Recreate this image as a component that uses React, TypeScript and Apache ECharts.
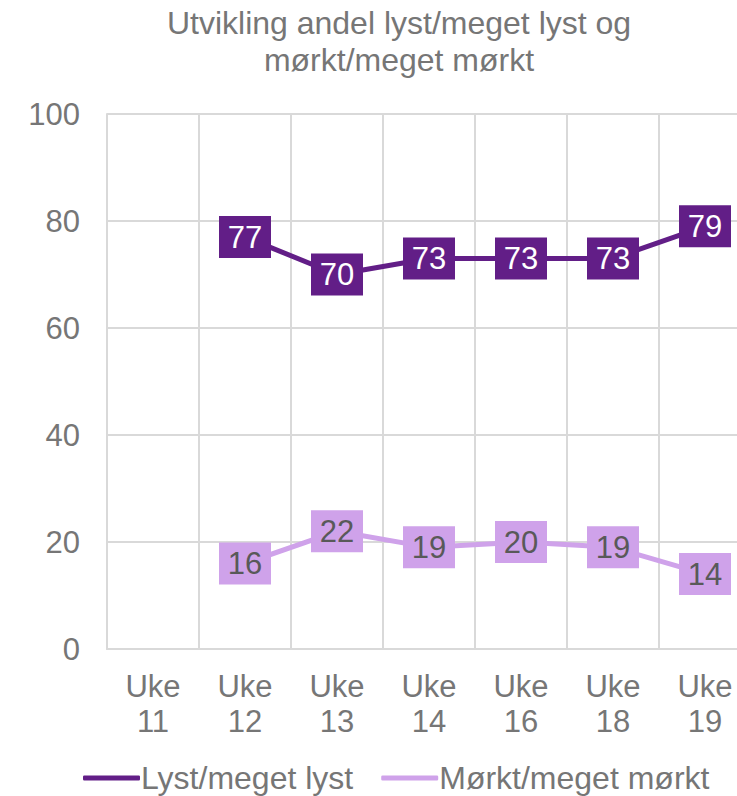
import React, { useEffect, useRef } from "react";
import * as echarts from "echarts";

const categories = ["Uke\n11", "Uke\n12", "Uke\n13", "Uke\n14", "Uke\n16", "Uke\n18", "Uke\n19"];
const lystValues = [null, 77, 70, 73, 73, 73, 79];
const morktValues = [null, 16, 22, 19, 20, 19, 14];
const yTicks = { min: 0, max: 100, interval: 20 };

const TEXT = "#767676";
const GRIDC = "#D9D9D9";
const DARK = "#621E87";
const LIGHT = "#CFA2EA";
const FONT = "'Liberation Sans', Arial, sans-serif";

export default function App() {
  const ref = useRef<HTMLDivElement>(null);
  useEffect(() => {
    if (!ref.current) return;
    const chart = echarts.init(ref.current, undefined, { renderer: "svg" });
    chart.setOption({
      animation: false,
      backgroundColor: "#ffffff",
      textStyle: { fontFamily: FONT },
      title: {
        text: "Utvikling andel lyst/meget lyst og\nmørkt/meget mørkt",
        left: 394,
        textAlign: "center",
        top: -1,
        textStyle: { fontFamily: FONT, fontSize: 32, fontWeight: "normal", color: TEXT, lineHeight: 37 },
      },
      legend: {
        left: 78,
        top: 756,
        itemGap: 28,
        itemWidth: 57,
        itemHeight: 5,
        textStyle: { fontFamily: FONT, fontSize: 32, color: TEXT, lineHeight: 34, padding: [0, 0, 0, -4] },
        data: [
          { name: "Lyst/meget lyst", icon: "roundRect", itemStyle: { color: DARK } },
          { name: "Mørkt/meget mørkt", icon: "roundRect", itemStyle: { color: LIGHT } },
        ],
      },
      grid: { left: 107, top: 114, bottom: 147, right: 9, containLabel: false },
      xAxis: {
        type: "category",
        data: categories,
        boundaryGap: true,
        axisLine: { show: true, lineStyle: { color: GRIDC, width: 2 } },
        axisTick: { show: false },
        splitLine: { show: true, lineStyle: { color: GRIDC, width: 2 } },
        axisLabel: { color: TEXT, fontSize: 31, fontFamily: FONT, lineHeight: 35, margin: 20, interval: 0 },
      },
      yAxis: {
        type: "value",
        min: yTicks.min,
        max: yTicks.max,
        interval: yTicks.interval,
        axisLine: { show: true, lineStyle: { color: GRIDC, width: 2 } },
        axisTick: { show: false },
        splitLine: { show: true, lineStyle: { color: GRIDC, width: 2 } },
        axisLabel: { color: TEXT, fontSize: 31, fontFamily: FONT, margin: 27 },
      },
      series: [
        {
          name: "Lyst/meget lyst",
          type: "line",
          data: lystValues,
          lineStyle: { color: DARK, width: 5 },
          itemStyle: { color: DARK },
          symbol: "rect",
          symbolSize: [52, 42],
          label: { show: true, position: "inside", color: "#ffffff", fontSize: 31, fontFamily: FONT },
          z: 3,
        },
        {
          name: "Mørkt/meget mørkt",
          type: "line",
          data: morktValues,
          lineStyle: { color: LIGHT, width: 5 },
          itemStyle: { color: LIGHT },
          symbol: "rect",
          symbolSize: [52, 42],
          label: { show: true, position: "inside", color: "#595959", fontSize: 31, fontFamily: FONT },
          z: 2,
        },
      ],
    });
    return () => chart.dispose();
  }, []);
  return (
    <div style={{ position: "absolute", left: 0, top: 0, width: 737, height: 796, overflow: "hidden" }}>
      <div ref={ref} style={{ position: "absolute", left: 0, top: 0, width: 760, height: 796 }} />
    </div>
  );
}
